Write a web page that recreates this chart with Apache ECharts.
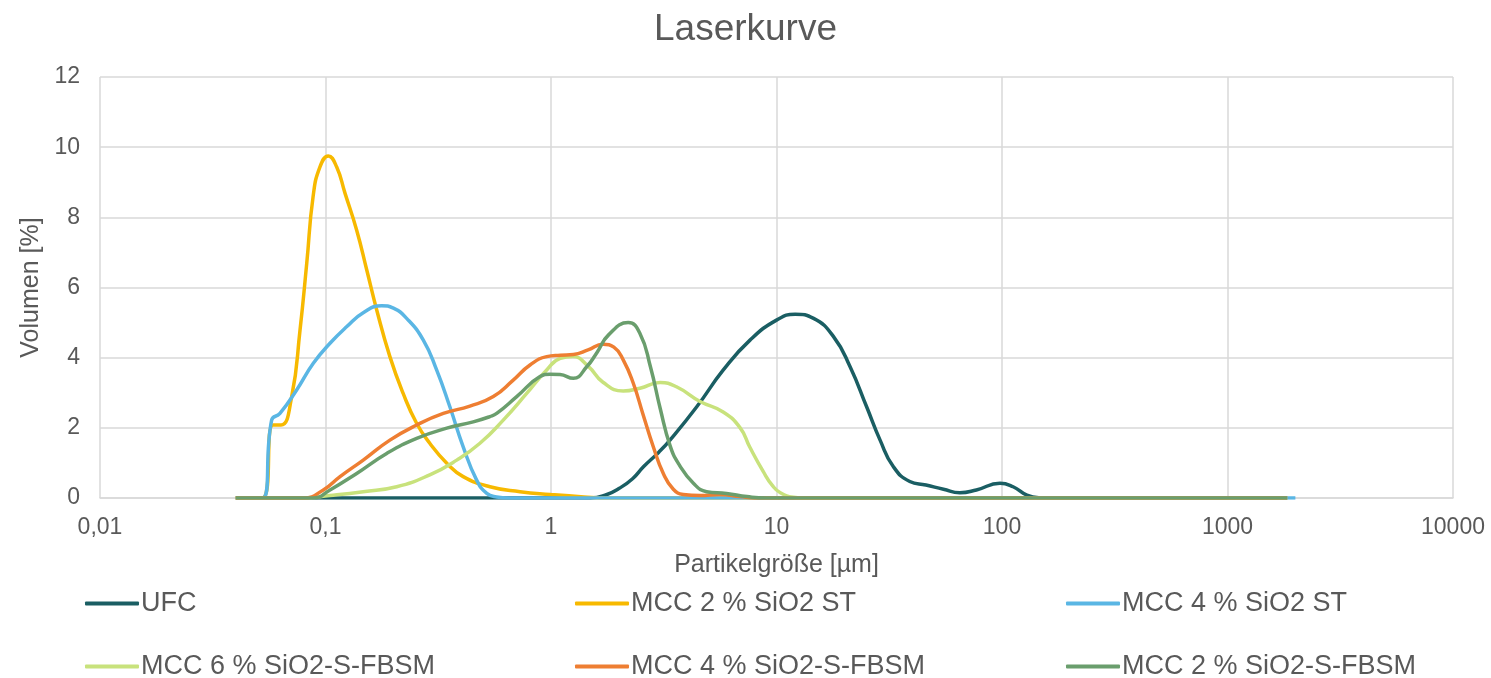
<!DOCTYPE html>
<html>
<head>
<meta charset="utf-8">
<script src="https://cdn.jsdelivr.net/npm/echarts@6/dist/echarts.min.js"></script>
<style>
html,body{margin:0;padding:0;background:#fff;}
#chart{width:1491px;height:678px;}
</style>
</head>
<body>
<div id="chart"></div>
<script>
// Series names
const seriesNames = ['UFC', 'MCC 2 % SiO2 ST', 'MCC 4 % SiO2 ST', 'MCC 6 % SiO2-S-FBSM', 'MCC 4 % SiO2-S-FBSM', 'MCC 2 % SiO2-S-FBSM'];
const seriesColors = ['#1a5e63', '#f7b900', '#5ab6e4', '#c8e27c', '#ee7e32', '#6a9e6d'];

// [particle size µm, volume %]
const ufc = [[0.04,0],[0.5,0],[1.5,0],[1.77,0.1],[2.0,0.27],[2.3,0.55],[2.57,0.89],[3.0,1.3],[3.37,1.65],[4.43,2.6],[5.81,3.65],[7.63,4.5],[10.0,5.07],[12.1,5.24],[14.6,5.12],[17.9,4.6],[21.2,3.74],[25.1,2.6],[28.8,1.65],[33,0.89],[39,0.47],[46,0.37],[55,0.25],[65,0.15],[77,0.23],[98,0.42],[112,0.32],[129,0.08],[147,0.01],[200,0],[1840,0]];
const mcc2st = [[0.04,0],[0.0525,0],[0.0585,2.08],[0.0635,2.08],[0.0708,2.89],[0.0771,4.79],[0.0826,6.7],[0.0881,8.59],[0.0945,9.44],[0.1029,9.75],[0.112,9.44],[0.122,8.69],[0.1374,7.64],[0.1524,6.5],[0.1687,5.36],[0.193,4.03],[0.221,2.98],[0.2535,2.13],[0.29,1.56],[0.345,0.99],[0.408,0.61],[0.536,0.32],[0.729,0.18],[0.99,0.1],[1.4,0.03],[1.8,0],[1840,0]];
const mcc4st = [[0.04,0],[0.0525,0],[0.0577,2.22],[0.0628,2.41],[0.0745,3.08],[0.0883,3.84],[0.1047,4.41],[0.124,4.88],[0.147,5.28],[0.1775,5.48],[0.2,5.41],[0.229,5.12],[0.2715,4.5],[0.311,3.65],[0.356,2.6],[0.408,1.46],[0.468,0.51],[0.519,0.13],[0.574,0.03],[0.65,0],[2000,0]];
const mcc6fbsm = [[0.04,0],[0.08,0],[0.1047,0.07],[0.147,0.18],[0.2069,0.32],[0.29,0.66],[0.382,1.08],[0.484,1.56],[0.614,2.22],[0.78,2.98],[0.957,3.65],[1.1,3.98],[1.25,4.03],[1.46,3.76],[1.7,3.3],[2.09,3.05],[2.48,3.13],[3.05,3.29],[3.6,3.17],[4.58,2.75],[5.8,2.45],[6.9,2.0],[7.6,1.46],[8.74,0.75],[9.6,0.35],[10.4,0.15],[11.9,0.02],[13,0],[1840,0]];
const mcc4fbsm = [[0.04,0],[0.08,0],[0.0978,0.23],[0.116,0.61],[0.147,1.08],[0.193,1.65],[0.2537,2.08],[0.333,2.41],[0.437,2.62],[0.555,2.89],[0.68,3.36],[0.807,3.79],[0.957,4.03],[1.1,4.07],[1.256,4.09],[1.46,4.22],[1.705,4.38],[1.9,4.3],[2.093,3.93],[2.317,3.27],[2.566,2.36],[2.842,1.46],[3.148,0.7],[3.487,0.25],[3.86,0.1],[4.58,0.07],[5.6,0.1],[6.9,0.04],[8,0],[1840,0]];
const mcc2fbsm = [[0.04,0],[0.088,0],[0.1047,0.23],[0.1375,0.7],[0.1868,1.27],[0.2537,1.7],[0.345,1.99],[0.452,2.17],[0.536,2.32],[0.5744,2.41],[0.7046,2.89],[0.894,3.46],[0.99,3.53],[1.096,3.52],[1.256,3.41],[1.44,3.74],[1.6,4.15],[1.8,4.65],[2.2,5.0],[2.48,4.69],[2.76,3.74],[3.05,2.55],[3.37,1.5],[3.7,0.95],[4.28,0.42],[4.9,0.18],[6.0,0.13],[7.4,0.04],[9,0],[1840,0]];
const seriesData = [ufc, mcc2st, mcc4st, mcc6fbsm, mcc4fbsm, mcc2fbsm];

// axes
const xMin = 0.01, xMax = 10000;
const yMin = 0, yMax = 12, yStep = 2;

const font = 'Liberation Sans, Arial, sans-serif';
const textColor = '#595959';

const legendPos = [
  {left: 85, top: 590}, {left: 575, top: 590}, {left: 1066, top: 590},
  {left: 85, top: 653}, {left: 575, top: 653}, {left: 1066, top: 653}
];

const chart = echarts.init(document.getElementById('chart'));
chart.setOption({
  animation: false,
  backgroundColor: '#fff',
  title: {
    text: 'Laserkurve',
    left: 'center',
    top: 6,
    textStyle: {color: textColor, fontSize: 37, fontWeight: 'normal', fontFamily: font}
  },
  legend: seriesNames.map((n, i) => ({
    data: [n],
    left: legendPos[i].left,
    top: legendPos[i].top,
    padding: 0,
    icon: 'roundRect',
    itemWidth: 54,
    itemHeight: 4,
    selectedMode: false,
    textStyle: {color: textColor, fontSize: 27, fontFamily: font, padding: [0, 0, 0, -3]}
  })),
  grid: {left: 100, right: 38, top: 77, bottom: 180},
  xAxis: {
    type: 'log',
    logBase: 10,
    min: xMin,
    max: xMax,
    name: 'Partikelgröße [µm]',
    nameLocation: 'middle',
    nameGap: 55,
    nameTextStyle: {color: textColor, fontSize: 25, fontFamily: font},
    axisLine: {show: true, lineStyle: {color: '#d9d9d9', width: 1.5}},
    axisTick: {show: false},
    splitLine: {show: true, lineStyle: {color: '#d9d9d9', width: 1.5}},
    axisLabel: {
      color: textColor, fontSize: 23, fontFamily: font, margin: 18,
      formatter: v => String(Number(Number(v).toPrecision(3))).replace('.', ',')
    }
  },
  yAxis: {
    type: 'value',
    min: yMin,
    max: yMax,
    interval: yStep,
    name: 'Volumen [%]',
    nameLocation: 'middle',
    nameGap: 54,
    nameTextStyle: {color: textColor, fontSize: 25, fontFamily: font},
    axisLine: {show: false},
    axisTick: {show: false},
    splitLine: {show: true, lineStyle: {color: '#d9d9d9', width: 1.5}},
    axisLabel: {color: textColor, fontSize: 23, fontFamily: font, margin: 20}
  },
  series: seriesNames.map((n, i) => ({
    name: n,
    type: 'line',
    data: seriesData[i],
    smooth: 0.5,
    showSymbol: false,
    symbol: 'none',
    color: seriesColors[i],
    lineStyle: {color: seriesColors[i], width: 3.5},
    itemStyle: {color: seriesColors[i]}
  }))
});
</script>
</body>
</html>
